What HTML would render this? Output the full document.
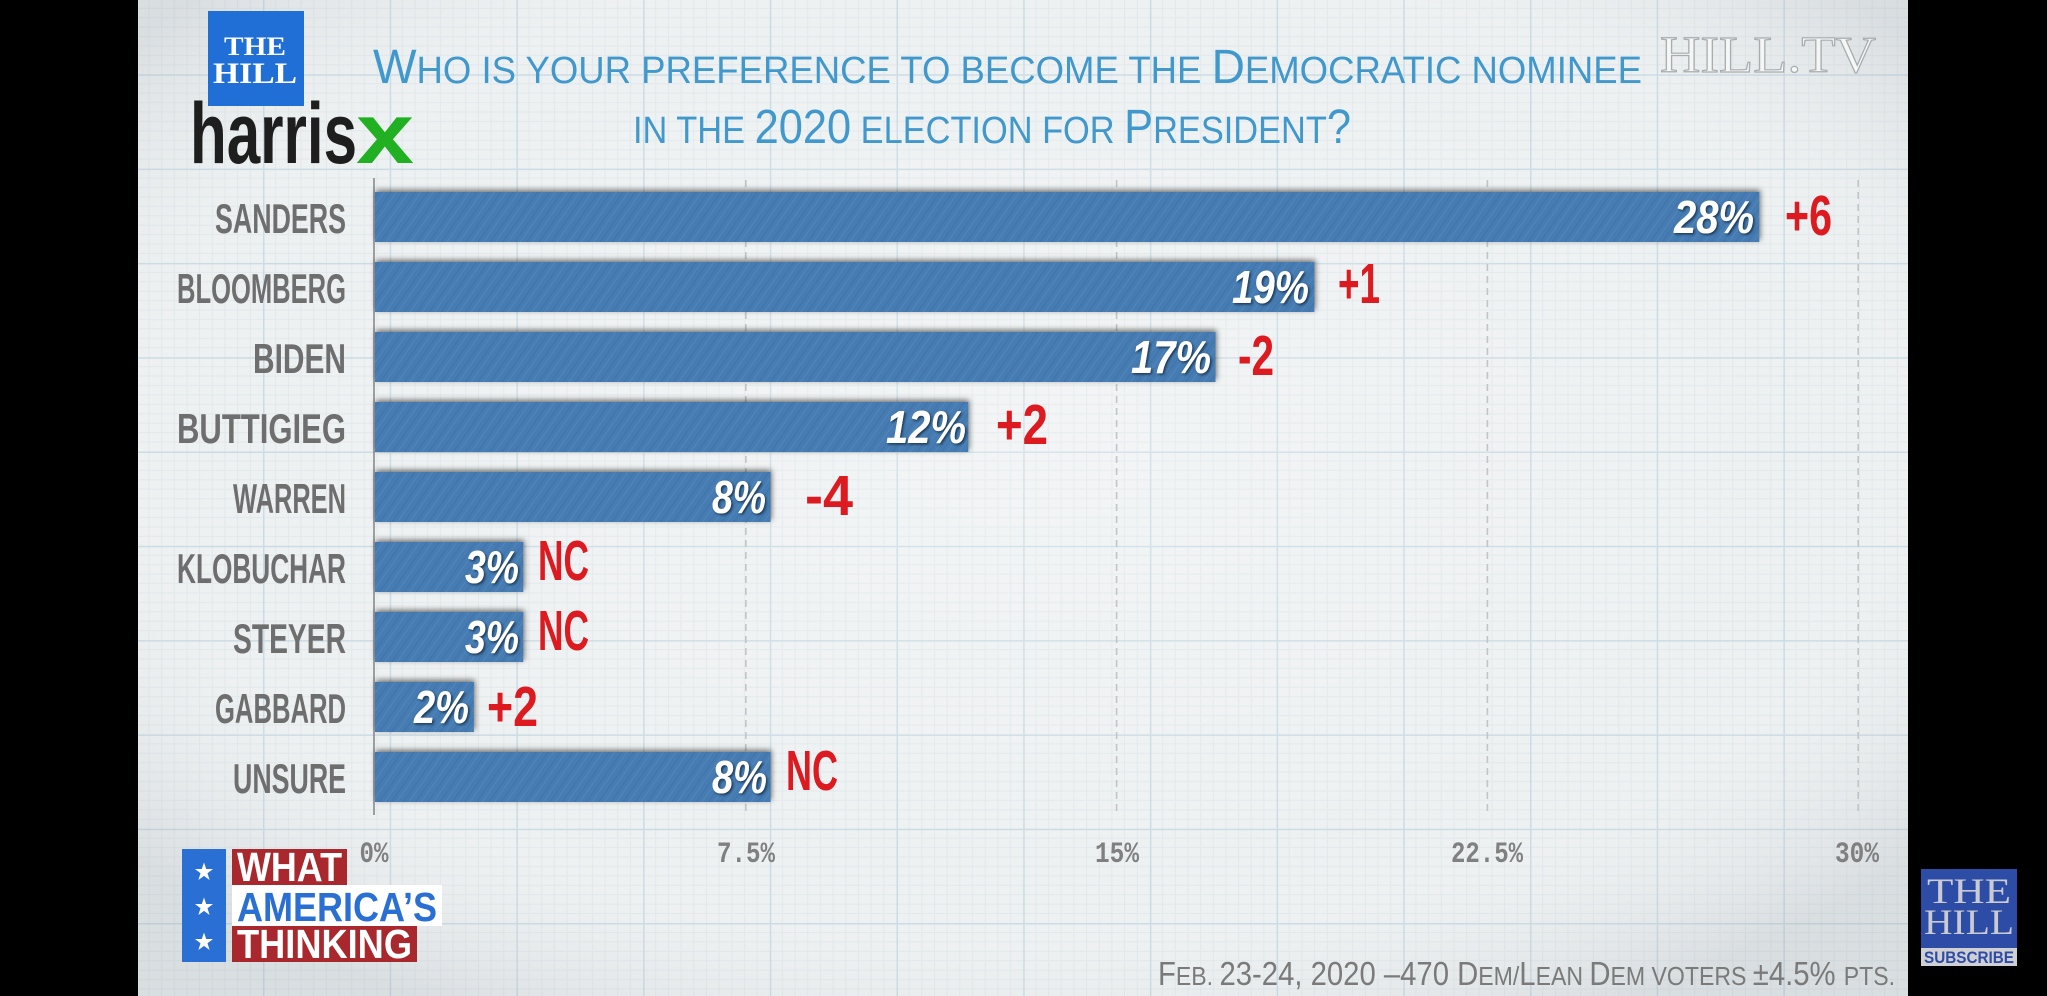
<!DOCTYPE html>
<html>
<head>
<meta charset="utf-8">
<style>
html,body{margin:0;padding:0;background:#000;}
body{width:2047px;height:996px;overflow:hidden;}
svg{display:block;}
</style>
</head>
<body>
<svg width="2047" height="996" viewBox="0 0 2047 996" xmlns="http://www.w3.org/2000/svg">
<defs>
  <pattern id="grid" patternUnits="userSpaceOnUse" x="263" y="74.3" width="126.7" height="94.3">
    <g stroke="#e1e8eb" stroke-width="1">
      <line x1="12.67" y1="0" x2="12.67" y2="94.3"/>
      <line x1="25.34" y1="0" x2="25.34" y2="94.3"/>
      <line x1="38.01" y1="0" x2="38.01" y2="94.3"/>
      <line x1="50.68" y1="0" x2="50.68" y2="94.3"/>
      <line x1="63.35" y1="0" x2="63.35" y2="94.3"/>
      <line x1="76.02" y1="0" x2="76.02" y2="94.3"/>
      <line x1="88.69" y1="0" x2="88.69" y2="94.3"/>
      <line x1="101.36" y1="0" x2="101.36" y2="94.3"/>
      <line x1="114.03" y1="0" x2="114.03" y2="94.3"/>
      <line x1="0" y1="9.43" x2="126.7" y2="9.43"/>
      <line x1="0" y1="18.86" x2="126.7" y2="18.86"/>
      <line x1="0" y1="28.29" x2="126.7" y2="28.29"/>
      <line x1="0" y1="37.72" x2="126.7" y2="37.72"/>
      <line x1="0" y1="47.15" x2="126.7" y2="47.15"/>
      <line x1="0" y1="56.58" x2="126.7" y2="56.58"/>
      <line x1="0" y1="66.01" x2="126.7" y2="66.01"/>
      <line x1="0" y1="75.44" x2="126.7" y2="75.44"/>
      <line x1="0" y1="84.87" x2="126.7" y2="84.87"/>
    </g>
    <line x1="0.75" y1="0" x2="0.75" y2="94.3" stroke="#cadbe5" stroke-width="1.5"/>
    <line x1="0" y1="0.75" x2="126.7" y2="0.75" stroke="#cadbe5" stroke-width="1.5"/>
  </pattern>
  <pattern id="hatch" patternUnits="userSpaceOnUse" width="10" height="10" patternTransform="rotate(35)">
    <rect width="10" height="10" fill="#467cb3"/>
    <line x1="0" y1="0" x2="0" y2="10" stroke="#3a6ca3" stroke-width="2" opacity="0.6"/>
    <line x1="5" y1="0" x2="5" y2="10" stroke="#5a8fc2" stroke-width="1" opacity="0.5"/>
  </pattern>
  <radialGradient id="vig" cx="50%" cy="45%" r="65%">
    <stop offset="0%" stop-color="#ffffff" stop-opacity="0.25"/>
    <stop offset="70%" stop-color="#ffffff" stop-opacity="0"/>
    <stop offset="100%" stop-color="#9aa4aa" stop-opacity="0.25"/>
  </radialGradient>
  <filter id="barsh" x="-5%" y="-50%" width="110%" height="200%">
    <feDropShadow dx="1" dy="-2" stdDeviation="3" flood-color="#000" flood-opacity="0.55"/>
  </filter>
  <filter id="valsh" x="-20%" y="-30%" width="140%" height="160%">
    <feDropShadow dx="1.5" dy="1.5" stdDeviation="1.2" flood-color="#15304d" flood-opacity="0.95"/>
  </filter>
  <symbol id="star" viewBox="-10 -10 20 20">
    <polygon points="0,-9.5 2.2,-3 9,-3 3.5,1.2 5.6,8 0,3.9 -5.6,8 -3.5,1.2 -9,-3 -2.2,-3" fill="#fff"/>
  </symbol>
</defs>

<rect x="0" y="0" width="2047" height="996" fill="#000"/>
<rect x="138" y="0" width="1770" height="996" fill="#eef1f2"/>
<rect x="138" y="0" width="1770" height="996" fill="url(#grid)"/>
<rect x="138" y="0" width="1770" height="996" fill="url(#vig)"/>

<!-- logos top-left -->
<rect x="208" y="11" width="96" height="95" fill="#1f6fd6"/>
<text x="255" y="55" font-family="Liberation Serif, serif" font-weight="700" font-size="26" fill="#fff" text-anchor="middle" textLength="62" lengthAdjust="spacingAndGlyphs">THE</text>
<text x="255" y="83" font-family="Liberation Serif, serif" font-weight="700" font-size="30" fill="#fff" text-anchor="middle" textLength="84" lengthAdjust="spacingAndGlyphs">HILL</text>
<text x="190" y="163" font-family="Liberation Sans, sans-serif" font-weight="700" font-size="86" fill="#1e1e1e" textLength="167" lengthAdjust="spacingAndGlyphs">harris</text>
<text x="356" y="163" font-family="Liberation Sans, sans-serif" font-weight="700" font-size="86" fill="#21b021" textLength="58" lengthAdjust="spacingAndGlyphs">x</text>

<!-- title -->
<text x="373" y="83" font-family="Liberation Sans, sans-serif" fill="#4198cc" textLength="1269" lengthAdjust="spacingAndGlyphs"><tspan font-size="48">W</tspan><tspan font-size="38">HO IS YOUR PREFERENCE TO BECOME THE </tspan><tspan font-size="48">D</tspan><tspan font-size="38">EMOCRATIC NOMINEE</tspan></text>
<text x="633" y="143" font-family="Liberation Sans, sans-serif" fill="#4198cc" textLength="718" lengthAdjust="spacingAndGlyphs"><tspan font-size="38">IN THE </tspan><tspan font-size="48">2020</tspan><tspan font-size="38"> ELECTION FOR </tspan><tspan font-size="48">P</tspan><tspan font-size="38">RESIDENT</tspan><tspan font-size="48">?</tspan></text>

<text x="1660" y="72" font-family="Liberation Serif, serif" font-size="52" fill="#f5f6f6" stroke="#a9acae" stroke-width="1.2" textLength="216" lengthAdjust="spacingAndGlyphs">HILL.TV</text>

<g stroke="#c2c4c6" stroke-width="1.6" stroke-dasharray="7 5">
  <line x1="745.8" y1="180" x2="745.8" y2="815"/>
  <line x1="1116.6" y1="180" x2="1116.6" y2="815"/>
  <line x1="1487.4" y1="180" x2="1487.4" y2="815"/>
  <line x1="1858.2" y1="180" x2="1858.2" y2="815"/>
</g>
<line x1="374" y1="178" x2="374" y2="815" stroke="#8a8a8a" stroke-width="1.6"/>

<g filter="url(#barsh)" fill="url(#hatch)">
  <rect x="375" y="192" width="1384.3" height="50"/>
  <rect x="375" y="262" width="939.4" height="50"/>
  <rect x="375" y="332" width="840.5" height="50"/>
  <rect x="375" y="402" width="593.3" height="50"/>
  <rect x="375" y="472" width="395.5" height="50"/>
  <rect x="375" y="542" width="148.3" height="50"/>
  <rect x="375" y="612" width="148.3" height="50"/>
  <rect x="375" y="682" width="98.9" height="50"/>
  <rect x="375" y="752" width="395.5" height="50"/>
</g>

<g font-family="Liberation Sans, sans-serif" font-weight="700" font-size="42" fill="#6e6e6e" text-anchor="end">
  <text x="346" y="233" textLength="131" lengthAdjust="spacingAndGlyphs">SANDERS</text>
  <text x="346" y="303" textLength="169" lengthAdjust="spacingAndGlyphs">BLOOMBERG</text>
  <text x="346" y="373" textLength="93" lengthAdjust="spacingAndGlyphs">BIDEN</text>
  <text x="346" y="443" textLength="169" lengthAdjust="spacingAndGlyphs">BUTTIGIEG</text>
  <text x="346" y="513" textLength="113" lengthAdjust="spacingAndGlyphs">WARREN</text>
  <text x="346" y="583" textLength="169" lengthAdjust="spacingAndGlyphs">KLOBUCHAR</text>
  <text x="346" y="653" textLength="113" lengthAdjust="spacingAndGlyphs">STEYER</text>
  <text x="346" y="723" textLength="131" lengthAdjust="spacingAndGlyphs">GABBARD</text>
  <text x="346" y="793" textLength="113" lengthAdjust="spacingAndGlyphs">UNSURE</text>
</g>

<g font-family="Liberation Sans, sans-serif" font-weight="700" font-style="italic" font-size="46" fill="#ffffff" text-anchor="end" filter="url(#valsh)">
  <text x="1754" y="233" textLength="80" lengthAdjust="spacingAndGlyphs">28%</text>
  <text x="1309" y="303" textLength="77" lengthAdjust="spacingAndGlyphs">19%</text>
  <text x="1211" y="373" textLength="80" lengthAdjust="spacingAndGlyphs">17%</text>
  <text x="966" y="443" textLength="80" lengthAdjust="spacingAndGlyphs">12%</text>
  <text x="766" y="513" textLength="54" lengthAdjust="spacingAndGlyphs">8%</text>
  <text x="519" y="583" textLength="54" lengthAdjust="spacingAndGlyphs">3%</text>
  <text x="519" y="653" textLength="54" lengthAdjust="spacingAndGlyphs">3%</text>
  <text x="469" y="723" textLength="55" lengthAdjust="spacingAndGlyphs">2%</text>
  <text x="767" y="793" textLength="55" lengthAdjust="spacingAndGlyphs">8%</text>
</g>

<g font-family="Liberation Sans, sans-serif" font-weight="700" font-size="57" fill="#dc1a1f">
  <text x="1785" y="235" textLength="47" lengthAdjust="spacingAndGlyphs">+6</text>
  <text x="1338" y="303" textLength="42" lengthAdjust="spacingAndGlyphs">+1</text>
  <text x="1238" y="375" textLength="36" lengthAdjust="spacingAndGlyphs">-2</text>
  <text x="996" y="444" textLength="52" lengthAdjust="spacingAndGlyphs">+2</text>
  <text x="805" y="515" textLength="48" lengthAdjust="spacingAndGlyphs">-4</text>
  <text x="538" y="580" textLength="51" lengthAdjust="spacingAndGlyphs">NC</text>
  <text x="538" y="650" textLength="51" lengthAdjust="spacingAndGlyphs">NC</text>
  <text x="487" y="726" textLength="51" lengthAdjust="spacingAndGlyphs">+2</text>
  <text x="786" y="790" textLength="52" lengthAdjust="spacingAndGlyphs">NC</text>
</g>

<g font-family="Liberation Mono, monospace" font-weight="700" font-size="30" fill="#808080" text-anchor="middle">
  <text x="374" y="862" textLength="29" lengthAdjust="spacingAndGlyphs">0%</text>
  <text x="746" y="862" textLength="58" lengthAdjust="spacingAndGlyphs">7.5%</text>
  <text x="1117" y="862" textLength="44" lengthAdjust="spacingAndGlyphs">15%</text>
  <text x="1487" y="862" textLength="72" lengthAdjust="spacingAndGlyphs">22.5%</text>
  <text x="1857" y="862" textLength="44" lengthAdjust="spacingAndGlyphs">30%</text>
</g>

<rect x="182" y="849" width="44" height="113" fill="#2a6fd3"/>
<use href="#star" x="194" y="862" width="20" height="20"/>
<use href="#star" x="194" y="897" width="20" height="20"/>
<use href="#star" x="194" y="932" width="20" height="20"/>
<rect x="232" y="849" width="115" height="36" fill="#a8282d"/>
<rect x="232" y="885" width="210" height="41" fill="#ffffff"/>
<rect x="232" y="926" width="185" height="36" fill="#a8282d"/>
<g font-family="Liberation Sans, sans-serif" font-weight="700" font-size="41">
  <text x="237" y="881" fill="#fff" textLength="105" lengthAdjust="spacingAndGlyphs">WHAT</text>
  <text x="237" y="921" fill="#2a6fd3" textLength="200" lengthAdjust="spacingAndGlyphs">AMERICA’S</text>
  <text x="237" y="958" fill="#fff" textLength="175" lengthAdjust="spacingAndGlyphs">THINKING</text>
</g>

<text x="1158" y="985" font-family="Liberation Sans, sans-serif" fill="#7a7a7a" textLength="737" lengthAdjust="spacingAndGlyphs"><tspan font-size="33">F</tspan><tspan font-size="26">EB. </tspan><tspan font-size="33">23-24, 2020 –470 D</tspan><tspan font-size="26">EM/</tspan><tspan font-size="33">L</tspan><tspan font-size="26">EAN </tspan><tspan font-size="33">D</tspan><tspan font-size="26">EM VOTERS </tspan><tspan font-size="33">±4.5% </tspan><tspan font-size="26">PTS.</tspan></text>

<rect x="1921" y="869" width="96" height="79" fill="#2d4ca5"/>
<text x="1969" y="903" font-family="Liberation Serif, serif" font-size="36" fill="#c9cad2" text-anchor="middle" textLength="84" lengthAdjust="spacingAndGlyphs">THE</text>
<text x="1969" y="934" font-family="Liberation Serif, serif" font-size="36" fill="#c9cad2" text-anchor="middle" textLength="90" lengthAdjust="spacingAndGlyphs">HILL</text>
<rect x="1921" y="948" width="96" height="18" fill="#d0d0d4"/>
<text x="1969" y="963" font-family="Liberation Sans, sans-serif" font-weight="700" font-size="17" fill="#2d4ca5" text-anchor="middle" textLength="90" lengthAdjust="spacingAndGlyphs">SUBSCRIBE</text>
</svg>
</body>
</html>
